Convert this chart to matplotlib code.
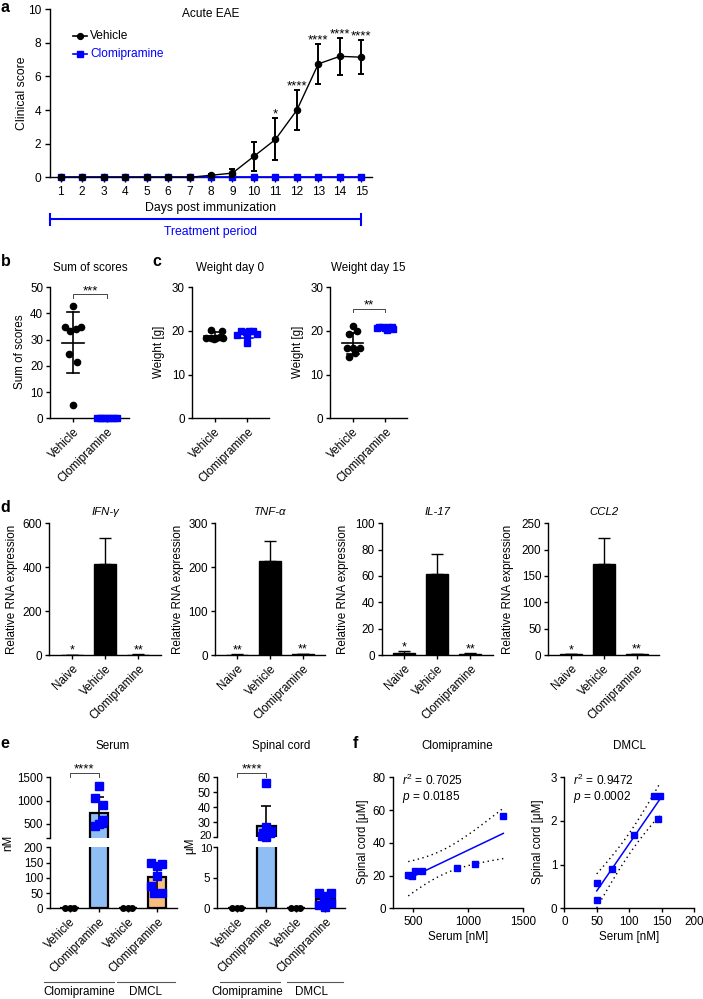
import numpy as np
import matplotlib
matplotlib.use('Agg')
import matplotlib.pyplot as plt
from matplotlib.lines import Line2D

plt.rcParams.update({
    'font.family': ['Liberation Sans', 'DejaVu Sans'],
    'font.size': 8.2,
    'axes.linewidth': 1.0,
    'xtick.major.width': 1.0, 'ytick.major.width': 1.0,
    'xtick.major.size': 3.0, 'ytick.major.size': 3.0,
    'xtick.major.pad': 2.5, 'ytick.major.pad': 2.0,
    'axes.spines.top': False, 'axes.spines.right': False,
    'mathtext.fontset': 'custom',
    'mathtext.rm': 'Liberation Sans',
    'mathtext.it': 'Liberation Sans:italic',
})

# ---------------- data ----------------
days = list(range(1, 16))
vehicle_score = [0, 0, 0, 0, 0, 0, 0, 0.12, 0.25, 1.25, 2.25, 4.0, 6.75, 7.2, 7.15]
vehicle_score_err = [0, 0, 0, 0, 0, 0, 0, 0.05, 0.25, 0.85, 1.25, 1.2, 1.2, 1.1, 1.03]
clomi_score = [0] * 15
score_sig_days = [11, 12, 13, 14, 15]
score_sig_labels = ['*', '****', '****', '****', '****']

groups_bc = ['Vehicle', 'Clomipramine']
sum_vehicle = [43, 35, 33.5, 34, 35, 24.5, 21.5, 5]
sum_clomi = [0, 0, 0, 0, 0, 0, 0, 0]
sum_mean = [28.9, 0]
sum_sd = [11.8, 0]

w0_vehicle = [20.2, 20.1, 18.5, 18.3, 18.4, 18.6, 18.5, 18.2]
w0_clomi = [20.0, 20.0, 19.8, 19.9, 19.0, 19.2, 18.8, 17.3]
w0_mean = [18.85, 19.25]
w0_sd = [0.8, 0.9]
w15_vehicle = [21.1, 20.0, 19.2, 16.2, 16.2, 16.2, 15.0, 14.0]
w15_clomi = [21.0, 20.9, 20.8, 20.8, 20.7, 20.6, 20.5, 20.3]
w15_mean = [17.2, 20.7]
w15_sd = [2.4, 0.25]

rna_groups = ['Naive', 'Vehicle', 'Clomipramine']
rna_genes = ['IFN-γ', 'TNF-α', 'IL-17', 'CCL2']
ifn_mean = [1, 415, 2]
ifn_err = [0.5, 118, 1]
tnf_mean = [1, 213, 2]
tnf_err = [0.5, 47, 1]
il17_mean = [1.5, 61.5, 0.7]
il17_err = [1.5, 15.5, 0.5]
ccl2_mean = [1, 173, 1.5]
ccl2_err = [0.5, 49, 1]
rna_sig = [['*', '', '**'], ['**', '', '**'], ['*', '', '**'], ['*', '', '**']]

e_groups = ['Vehicle', 'Clomipramine', 'Vehicle', 'Clomipramine']
e_supergroups = ['Clomipramine', 'DMCL']
vehicle_zero = [0, 0, 0]
serum_clomi = [454, 490, 513, 582, 900, 1061, 1323]
serum_dmcl = [50, 50, 74, 107, 138, 147, 144]
spinal_clomi = [20.6, 19.9, 23.0, 23.0, 24.5, 27.2, 56.5]
spinal_dmcl = [0.57, 0.2, 0.9, 1.69, 2.57, 2.58, 2.04]
serum_bar = [0, 745, 0, 102]
serum_sd = [0, 330, 0, 43]
spinal_bar = [0, 27.8, 0, 1.5]
spinal_sd = [0, 13.2, 0, 0.95]

clomi_stats = ['$r^2$ = 0.7025', '$p$ = 0.0185']
dmcl_stats = ['$r^2$ = 0.9472', '$p$ = 0.0002']

# ---------------- layout helpers ----------------
W, H = 703, 999
fig = plt.figure(figsize=(W / 100, H / 100), dpi=100)
BLUE = '#0000ff'
LBLUE = '#8fbef5'
ORANGE = '#f7be80'
STAR_FS = 9.5


def add_ax(l, t, r, b):
    return fig.add_axes([l / W, 1 - b / H, (r - l) / W, (b - t) / H])


def ftext(x, y, s, **kw):
    kw.setdefault('ha', 'center')
    kw.setdefault('va', 'center')
    fig.text(x / W, 1 - y / H, s, **kw)


def fline(xs, ys, **kw):
    fig.add_artist(Line2D([x / W for x in xs], [1 - y / H for y in ys], **kw))


def stars(ax, x, y, s, dy_px=1.0, fs=STAR_FS):
    ax.annotate(s, (x, y), xytext=(0, dy_px * 0.72), textcoords='offset points',
                ha='center', va='baseline', fontsize=fs, annotation_clip=False)


def bracket(ax, x0, x1, y, drop, label):
    ax.plot([x0, x0, x1, x1], [y - drop, y, y, y - drop], color='#444444', lw=0.7,
            clip_on=False)
    stars(ax, (x0 + x1) / 2, y, label, dy_px=0.3)


def rot_labels(ax, labels):
    ax.set_xticklabels(labels, rotation=45, ha='right', va='top',
                       rotation_mode='anchor')


def panel_letter(x, y, s):
    ftext(x, y, s, fontsize=11.5, fontweight='bold')


# ---------------- panel a ----------------
axa = add_ax(50, 9.3, 372, 177.3)
axa.plot(days, clomi_score, color=BLUE, marker='s', ms=4.2, lw=1.3, clip_on=False, zorder=3)
eb = axa.errorbar(days, vehicle_score, yerr=vehicle_score_err, color='black', marker='o',
                  ms=4.4, lw=1.0, elinewidth=1.4, capsize=2.3, capthick=1.4, zorder=4)
for art in eb.get_children():
    art.set_clip_on(False)
axa.set_xlim(0.5, 15.5)
axa.set_ylim(0, 10)
axa.set_xticks(days)
axa.set_yticks(range(0, 11, 2))
axa.tick_params(labelsize=8.6, length=3.5, pad=3)
for d, s in zip(score_sig_days, score_sig_labels):
    i = days.index(d)
    stars(axa, d, vehicle_score[i] + vehicle_score_err[i], s, dy_px=0.8)
axa.text(0.5, 9.72, 'Acute EAE', transform=axa.get_yaxis_transform(), ha='center',
         va='center', fontsize=8.6)
# legend
for yy, col, mk, lab in [(0.841, 'black', 'o', 'Vehicle'), (0.734, BLUE, 's', 'Clomipramine')]:
    axa.plot([0.071, 0.115], [yy, yy], color=col, lw=1.2, transform=axa.transAxes)
    axa.plot([0.093], [yy], color=col, marker=mk, ms=4.2, transform=axa.transAxes)
    axa.text(0.124, yy, lab, color=col, transform=axa.transAxes, ha='left', va='center',
             fontsize=8.6)
ftext(22, 93, 'Clinical score', rotation=90, fontsize=8.8)
ftext(211, 208, 'Days post immunization', fontsize=8.8)
fline([50, 361.5], [219, 219], color=BLUE, lw=1.5)
fline([50, 50], [213.5, 224.5], color=BLUE, lw=1.5)
fline([361.5, 361.5], [213.5, 224.5], color=BLUE, lw=1.5)
ftext(211, 232, 'Treatment period', color=BLUE, fontsize=8.8)
panel_letter(5, 8, 'a')


# ---------------- panels b, c ----------------
def dot_panel(l, r, vals, offs, mean, sd, ylim, yticks, ylabel_x, ylabel, title, title_x,
              sig=None):
    ax = add_ax(l, 287.3, r, 418.3)
    for gi, (v, o) in enumerate(zip(vals, offs)):
        col = 'black' if gi == 0 else BLUE
        mk = 'o' if gi == 0 else 's'
        ax.plot(np.array(o) + gi, v, ls='none', marker=mk, color=col, ms=4.5,
                clip_on=False, zorder=3)
        ax.plot([gi - 0.33, gi + 0.33], [mean[gi], mean[gi]], color=col, lw=1.2,
                clip_on=False, zorder=4)
        ax.plot([gi, gi], [mean[gi] - sd[gi], mean[gi] + sd[gi]], color=col, lw=1.2,
                clip_on=False, zorder=4)
        for yy in (mean[gi] - sd[gi], mean[gi] + sd[gi]):
            ax.plot([gi - 0.18, gi + 0.18], [yy, yy], color=col, lw=1.2, clip_on=False,
                    zorder=4)
    ax.set_xlim(-0.7, 1.67)
    ax.set_ylim(*ylim)
    ax.set_yticks(yticks)
    ax.set_xticks([0, 1])
    rot_labels(ax, groups_bc)
    ax.tick_params(labelsize=8.4)
    ftext(ylabel_x, 352, ylabel, rotation=90, fontsize=8.4)
    ftext(title_x, 268, title, fontsize=8.4)
    if sig:
        bracket(ax, 0, 1, sig[0], sig[1], sig[2])
    return ax


sum_offs = [[0, -0.26, -0.1, 0.08, 0.23, -0.12, 0.11, 0],
            list(np.linspace(-0.3, 0.3, 8))]
dot_panel(50, 129, [sum_vehicle, sum_clomi], sum_offs, sum_mean, sum_sd, (0, 50),
          range(0, 51, 10), 20, 'Sum of scores', 'Sum of scores', 90, sig=(47.3, 1.3, '***'))

w0_offs = [[-0.12, 0.23, -0.27, -0.1, 0.05, 0.18, 0.27, -0.02],
           [-0.18, 0.19, -0.05, 0.05, -0.3, 0.3, 0.0, 0.0]]
dot_panel(191.7, 269, [w0_vehicle, w0_clomi], w0_offs, w0_mean, w0_sd, (0, 30),
          [0, 10, 20, 30], 159, 'Weight [g]', 'Weight day 0', 230)

w15_offs = [[0.01, 0.13, -0.12, -0.19, 0.01, 0.21, 0.08, -0.12],
            [-0.2, 0.2, -0.1, 0.1, 0.0, -0.25, 0.25, 0.05]]
dot_panel(330, 407, [w15_vehicle, w15_clomi], w15_offs, w15_mean, w15_sd, (0, 30),
          [0, 10, 20, 30], 298, 'Weight [g]', 'Weight day 15', 368.5, sig=(25.1, 0.75, '**'))
panel_letter(6, 262, 'b')
panel_letter(157, 262, 'c')

# ---------------- panel d ----------------
d_specs = [
    (49.3, 160.7, ifn_mean, ifn_err, 600, [0, 200, 400, 600], 12),
    (215, 325, tnf_mean, tnf_err, 300, [0, 100, 200, 300], 178),
    (381.7, 492.7, il17_mean, il17_err, 100, [0, 20, 40, 60, 80, 100], 343),
    (548.3, 659, ccl2_mean, ccl2_err, 250, [0, 50, 100, 150, 200, 250], 508),
]
for gi, (l, r, mean, err, ymax, ticks, ylx) in enumerate(d_specs):
    ax = add_ax(l, 523.3, r, 655)
    xs = np.arange(3)
    ax.bar(xs, mean, width=0.67, color='black', edgecolor='black', lw=1.0, zorder=2)
    ax.errorbar(xs, mean, yerr=[[0, 0, 0], err], fmt='none', ecolor='black', elinewidth=1.0,
                capsize=4, capthick=1.0, zorder=3)
    ax.set_xlim(-0.68, 2.68)
    ax.set_ylim(0, ymax)
    ax.set_yticks(ticks)
    ax.set_xticks(xs)
    rot_labels(ax, rna_groups)
    ax.tick_params(labelsize=8.4)
    for xi in range(3):
        if rna_sig[gi][xi]:
            stars(ax, xi, mean[xi] + err[xi], rna_sig[gi][xi], dy_px=1.0, fs=9.0)
    ax.text(0.5, 1.088, rna_genes[gi], transform=ax.transAxes, ha='center', va='center',
            style='italic', fontsize=8.2)
    ftext(ylx, 589, 'Relative RNA expression', rotation=90, fontsize=8.4)
panel_letter(5, 508, 'd')


# ---------------- panel e ----------------
def broken_panel(l, r, top_lim, top_ticks, top_labels, bot_lim, bot_ticks, bot_labels,
                 bar, sd, pts_clomi, offs_clomi, pts_dmcl, offs_dmcl, sig_y, sig_drop,
                 extra_labels):
    t_bottom = 838 if top_lim[0] == 200 else 837.3
    axt = add_ax(l, 777.3, r, t_bottom)
    axb = add_ax(l, 847.3, r, 908.3)
    xs = np.arange(4)
    cols = ['white', LBLUE, 'white', ORANGE]
    for ax in (axt, axb):
        ax.bar(xs, bar, width=0.63, color=cols, edgecolor='black', lw=1.6, zorder=2)
        ax.errorbar([1, 3], [bar[1], bar[3]], yerr=[sd[1], sd[3]], fmt='none',
                    ecolor='black', elinewidth=1.2, capsize=3.5, capthick=1.2, zorder=3)
        ax.set_xlim(-0.67, 3.67)
    for gx in (0, 2):
        axb.plot(np.array([-0.16, 0, 0.14]) + gx, vehicle_zero, ls='none', marker='o',
                 color='black', ms=4.0, clip_on=False, zorder=4)
    for ax, pts, offs, gx in [(axt, pts_clomi, offs_clomi, 1), (axb, pts_dmcl, offs_dmcl, 3)]:
        ax.plot(np.array(offs) + gx, pts, ls='none', marker='s', color=BLUE, ms=5.2,
                clip_on=False, zorder=4)
    axt.set_ylim(*top_lim)
    axt.set_yticks(top_ticks)
    axt.set_yticklabels(top_labels)
    axt.spines['bottom'].set_visible(False)
    axt.tick_params(axis='x', bottom=False, labelbottom=False)
    axb.set_ylim(*bot_lim)
    axb.set_yticks(bot_ticks)
    axb.set_yticklabels(bot_labels)
    axb.set_xticks(xs)
    rot_labels(axb, e_groups)
    axt.tick_params(labelsize=8.3)
    axb.tick_params(axis='y', labelsize=8.3)
    axb.tick_params(axis='x', labelsize=8.4)
    # tick labels at the axis break, placed by hand so they do not collide
    for txt, ypx in extra_labels:
        ftext(l - 5, ypx, txt, ha='right', fontsize=8.0)
    bracket(axt, 0, 1, sig_y, sig_drop, '****')
    return axt, axb


broken_panel(50, 176.7, (200, 1500), [200, 500, 1000, 1500], ['', '500', '1000', '1500'],
             (0, 200), [0, 50, 100, 150, 200], ['0', '50', '100', '150', '200'],
             serum_bar, serum_sd,
             serum_clomi, [-0.12, 0.0, 0.12, 0.15, 0.15, -0.14, 0.01],
             serum_dmcl, [-0.12, 0.18, -0.2, 0.0, 0.0, -0.2, 0.18], 1598, 100, [])
broken_panel(217.3, 345, (20, 60), [20, 30, 40, 50, 60], ['', '30', '40', '50', '60'],
             (0, 10), [0, 5, 10], ['0', '5', ''], spinal_bar, spinal_sd,
             spinal_clomi, [-0.15, 0.0, -0.1, 0.12, 0.15, 0.0, 0.0],
             spinal_dmcl, [-0.2, 0.0, 0.18, -0.05, -0.2, 0.18, 0.0], 63.1, 3.1,
             [('20', 836.0), ('10', 849.5)])
ftext(113, 746, 'Serum', fontsize=8.4)
ftext(281, 746, 'Spinal cord', fontsize=8.4)
ftext(8, 843, 'nM', rotation=90, fontsize=8.4)
ftext(190, 846, 'μM', rotation=90, fontsize=8.4)
for (x0, x1, tx), lab in zip([(44, 114, 79), (117, 175, 146)], e_supergroups):
    fline([x0, x1], [981.7, 981.7], color='#555555', lw=0.8)
    ftext(tx, 992, lab, fontsize=8.4)
for (x0, x1, tx), lab in zip([(220, 280, 247), (287, 343, 312)], e_supergroups):
    fline([x0, x1], [981.7, 981.7], color='#555555', lw=0.8)
    ftext(tx, 992, lab, fontsize=8.4)
panel_letter(5, 743, 'e')


# ---------------- panel f ----------------
def reg_panel(l, r, x, y, xlim, xticks, ylim, yticks, title, stats, ylx):
    ax = add_ax(l, 777.3, r, 908.3)
    x = np.asarray(x, float)
    y = np.asarray(y, float)
    n = len(x)
    slope, icpt = np.polyfit(x, y, 1)
    xx = np.linspace(x.min(), x.max(), 100)
    fit = slope * xx + icpt
    resid = y - (slope * x + icpt)
    s = np.sqrt(np.sum(resid ** 2) / (n - 2))
    sxx = np.sum((x - x.mean()) ** 2)
    half = 2.5706 * s * np.sqrt(1 / n + (xx - x.mean()) ** 2 / sxx)
    ax.plot(xx, fit, color=BLUE, lw=1.1, zorder=3)
    ax.plot(xx, fit + half, color='black', ls=(0, (1, 2.5)), lw=1.0, zorder=2)
    ax.plot(xx, fit - half, color='black', ls=(0, (1, 2.5)), lw=1.0, zorder=2)
    ax.plot(x, y, ls='none', marker='s', color=BLUE, ms=4.8, zorder=4, clip_on=False)
    ax.set_xlim(*xlim)
    ax.set_xticks(xticks)
    ax.set_ylim(*ylim)
    ax.set_yticks(yticks)
    ax.tick_params(labelsize=8.4)
    ax.text(0.5, 1.239, title, transform=ax.transAxes, ha='center', va='center', fontsize=8.4)
    ax.text(0.07, 0.975, stats[0], transform=ax.transAxes, ha='left', va='center', fontsize=8.6)
    ax.text(0.07, 0.853, stats[1], transform=ax.transAxes, ha='left', va='center', fontsize=8.6)
    ftext((l + r) / 2, 937.3, 'Serum [nM]', fontsize=8.4)
    ftext(ylx, 842, 'Spinal cord [μM]', rotation=90, fontsize=8.4)
    return ax


reg_panel(392.7, 522.7, serum_clomi, spinal_clomi, (312, 1500), [500, 1000, 1500],
          (0, 80), [0, 20, 40, 60, 80], 'Clomipramine', clomi_stats, 363)
reg_panel(564.3, 694, serum_dmcl, spinal_dmcl, (0, 200), [0, 50, 100, 150, 200],
          (0, 3), [0, 1, 2, 3], 'DMCL', dmcl_stats, 538)
panel_letter(355, 743, 'f')

fig.savefig('out.png', dpi=100)
